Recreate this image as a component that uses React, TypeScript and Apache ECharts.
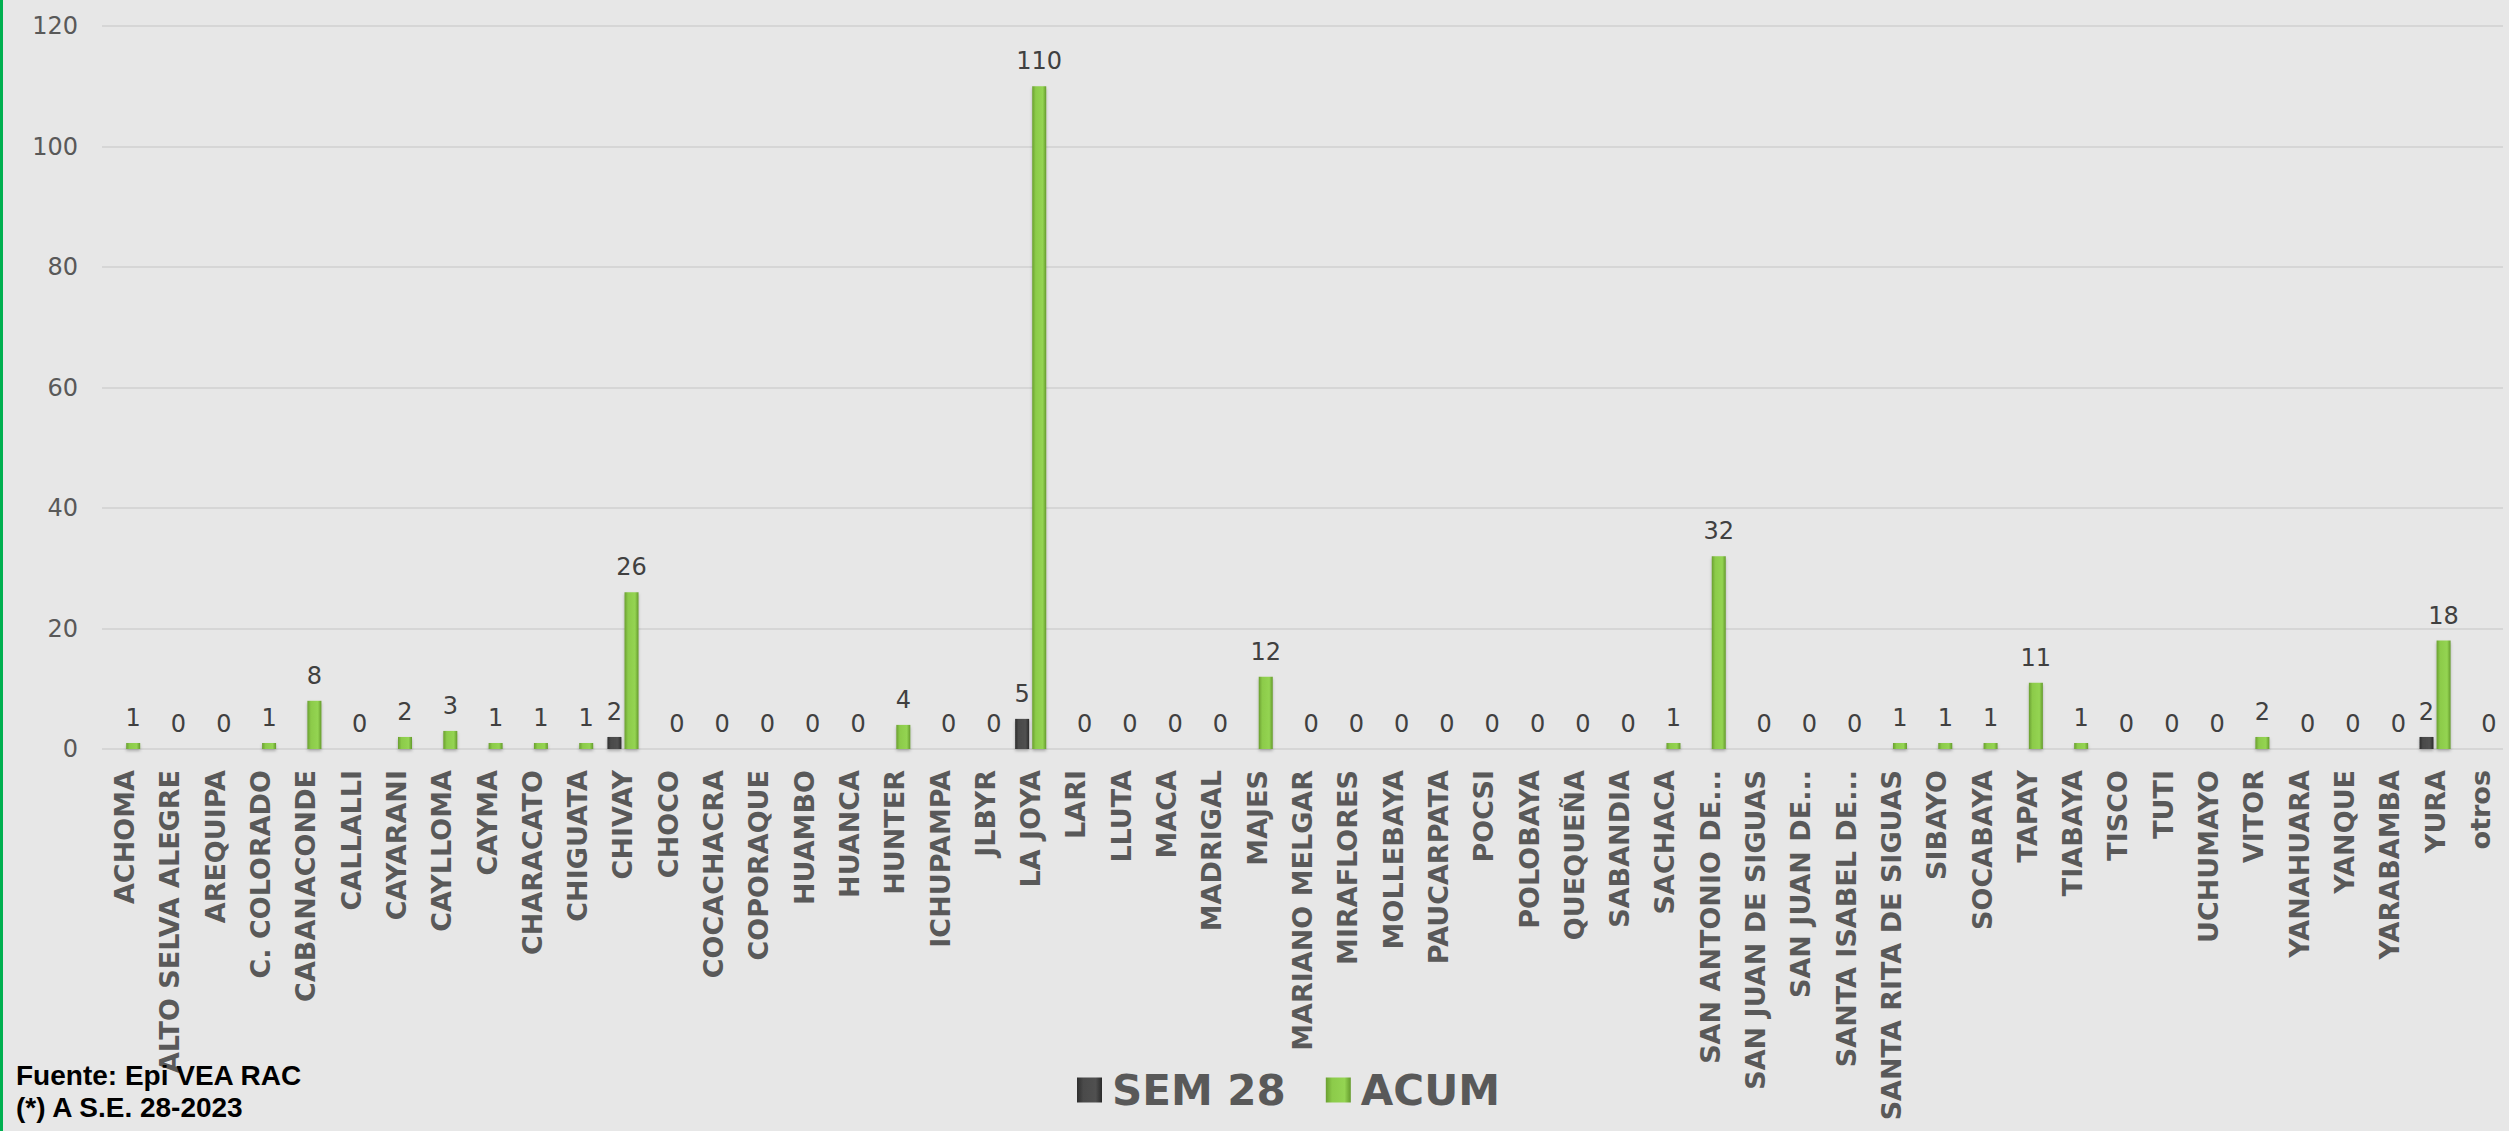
import React, { useEffect, useRef } from "react";
import * as echarts from "echarts";

const categories = [
  "ACHOMA", "ALTO SELVA ALEGRE", "AREQUIPA", "C. COLORADO", "CABANACONDE", "CALLALLI",
  "CAYARANI", "CAYLLOMA", "CAYMA", "CHARACATO", "CHIGUATA", "CHIVAY", "CHOCO",
  "COCACHACRA", "COPORAQUE", "HUAMBO", "HUANCA", "HUNTER", "ICHUPAMPA", "JLBYR",
  "LA JOYA", "LARI", "LLUTA", "MACA", "MADRIGAL", "MAJES", "MARIANO MELGAR",
  "MIRAFLORES", "MOLLEBAYA", "PAUCARPATA", "POCSI", "POLOBAYA", "QUEQUEÑA",
  "SABANDIA", "SACHACA", "SAN ANTONIO DE...", "SAN JUAN DE SIGUAS", "SAN JUAN DE...",
  "SANTA ISABEL DE...", "SANTA RITA DE SIGUAS", "SIBAYO", "SOCABAYA", "TAPAY",
  "TIABAYA", "TISCO", "TUTI", "UCHUMAYO", "VITOR", "YANAHUARA", "YANQUE",
  "YARABAMBA", "YURA", "otros",
];

const sem28 = [
  0, 0, 0, 0, 0, 0, 0, 0, 0, 0, 0, 2, 0, 0, 0, 0, 0, 0, 0, 0, 5, 0, 0, 0, 0, 0, 0,
  0, 0, 0, 0, 0, 0, 0, 0, 0, 0, 0, 0, 0, 0, 0, 0, 0, 0, 0, 0, 0, 0, 0, 0, 2, 0,
];

const acum = [
  1, 0, 0, 1, 8, 0, 2, 3, 1, 1, 1, 26, 0, 0, 0, 0, 0, 4, 0, 0, 110, 0, 0, 0, 0, 12, 0,
  0, 0, 0, 0, 0, 0, 0, 1, 32, 0, 0, 0, 1, 1, 1, 11, 1, 0, 0, 0, 2, 0, 0, 0, 18, 0,
];

const yTicks = { min: 0, max: 120, interval: 20 };

const FONT = "'DejaVu Sans', Verdana, sans-serif";

const greenGrad = () =>
  new echarts.graphic.LinearGradient(0, 0, 1, 0, [
    { offset: 0, color: "#6a9f30" },
    { offset: 0.25, color: "#8ccb4a" },
    { offset: 0.75, color: "#94d452" },
    { offset: 1, color: "#649a2c" },
  ]);

const grayGrad = () =>
  new echarts.graphic.LinearGradient(0, 0, 1, 0, [
    { offset: 0, color: "#2e2e2e" },
    { offset: 0.25, color: "#4a4a4a" },
    { offset: 0.75, color: "#505050" },
    { offset: 1, color: "#2a2a2a" },
  ]);

export default function App() {
  const ref = useRef<HTMLDivElement>(null);

  useEffect(() => {
    document.body.style.margin = "0";
    const chart = echarts.init(ref.current!, null, { renderer: "svg" });
    chart.setOption({
      animation: false,
      backgroundColor: "#e7e7e7",
      textStyle: { fontFamily: FONT },
      grid: { left: 102, right: 6, top: 26, bottom: 382, containLabel: false },
      legend: {
        left: 1072,
        top: 1064,
        itemWidth: 25,
        itemHeight: 25,
        itemGap: 40,
        textStyle: { fontFamily: FONT, fontSize: 42, fontWeight: "bold", color: "#595959", padding: [0, 0, 0, 5] },
        data: [
          { name: "SEM 28", icon: "rect", itemStyle: { color: grayGrad() } },
          { name: "ACUM", icon: "rect", itemStyle: { color: greenGrad() } },
        ],
      },
      xAxis: {
        type: "category",
        data: categories,
        axisLine: { show: false },
        axisTick: { show: false },
        axisLabel: {
          interval: 0,
          rotate: 90,
          margin: 21,
          fontFamily: FONT,
          fontSize: 27,
          fontWeight: "bold",
          color: "#595959",
        },
      },
      yAxis: {
        type: "value",
        min: yTicks.min,
        max: yTicks.max,
        interval: yTicks.interval,
        axisLine: { show: false },
        axisTick: { show: false },
        splitLine: { lineStyle: { color: "#d6d6d6", width: 2 } },
        axisLabel: { margin: 24, fontFamily: FONT, fontSize: 24, color: "#595959" },
      },
      series: [
        {
          name: "SEM 28",
          type: "bar",
          data: sem28,
          barWidth: 14,
          barGap: "22%",
          itemStyle: { color: grayGrad(), shadowColor: "rgba(0,0,0,0.25)", shadowBlur: 3, shadowOffsetY: 2 },
          label: {
            show: true,
            position: "top",
            distance: 13,
            fontFamily: FONT,
            fontSize: 24,
            color: "#404040",
            formatter: (p: any) => (p.value ? String(p.value) : ""),
          },
        },
        {
          name: "ACUM",
          type: "bar",
          data: acum,
          barWidth: 14,
          itemStyle: { color: greenGrad(), shadowColor: "rgba(0,0,0,0.25)", shadowBlur: 3, shadowOffsetY: 2 },
          label: {
            show: true,
            position: "top",
            distance: 13,
            fontFamily: FONT,
            fontSize: 24,
            color: "#404040",
          },
        },
      ],
      graphic: [
        { type: "rect", left: 0, top: 0, shape: { width: 3, height: 1131 }, style: { fill: "#00b050" }, z: 100 },
        {
          type: "text",
          left: 16,
          top: 1059,
          z: 100,
          style: {
            text: "Fuente: Epi VEA RAC\n(*) A S.E. 28-2023",
            fontFamily: "'Liberation Sans', Arial, sans-serif",
            fontSize: 28,
            fontWeight: "bold",
            fill: "#000000",
            lineHeight: 32,
          },
        },
      ],
    });
    return () => chart.dispose();
  }, []);

  return <div ref={ref} style={{ position: "fixed", left: 0, top: 0, width: 2509, height: 1131 }} />;
}
